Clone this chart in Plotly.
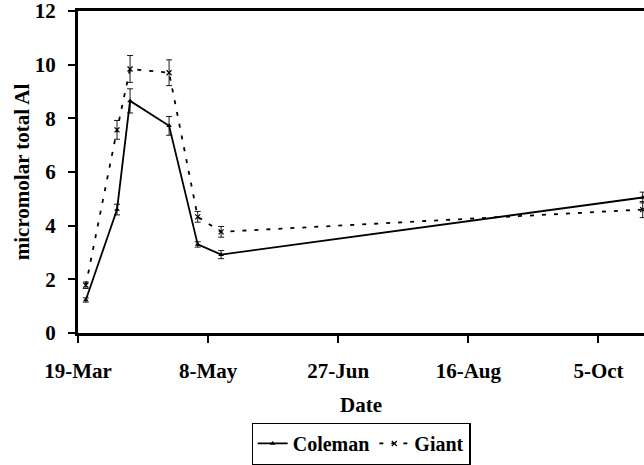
import plotly.graph_objects as go

dates = ["2003-03-22", "2003-04-03", "2003-04-08", "2003-04-23", "2003-05-04", "2003-05-13", "2003-10-22"]
coleman = [1.23, 4.6, 8.65, 7.72, 3.3, 2.92, 5.05]
coleman_err = [0.08, 0.2, 0.45, 0.35, 0.1, 0.15, 0.2]
giant = [1.78, 7.57, 9.84, 9.7, 4.33, 3.77, 4.6]
giant_err = [0.12, 0.35, 0.5, 0.48, 0.2, 0.2, 0.3]

tick_vals = ["2003-03-19", "2003-05-08", "2003-06-27", "2003-08-16", "2003-10-05"]
tick_text = ["19-Mar", "8-May", "27-Jun", "16-Aug", "5-Oct"]
y_ticks = [0, 2, 4, 6, 8, 10, 12]

font_family = "Liberation Serif"
fs = 21

fig = go.Figure()
fig.add_trace(go.Scatter(
    x=dates, y=coleman, name="<b>Coleman</b>", mode="lines+markers",
    line=dict(color="black", width=1.8),
    marker=dict(symbol="triangle-up", size=5, color="black"),
    error_y=dict(type="data", array=coleman_err, color="black", thickness=0.9, width=3),
    cliponaxis=False,
))
fig.add_trace(go.Scatter(
    x=dates, y=giant, name="<b>Giant</b>", mode="lines+markers",
    line=dict(color="black", width=1.8, dash="4px,8px"),
    marker=dict(symbol="x-thin", size=5, color="black", line=dict(width=1.2, color="black")),
    error_y=dict(type="data", array=giant_err, color="black", thickness=0.9, width=3),
    cliponaxis=False,
))

fig.update_layout(
    width=644, height=465,
    margin=dict(l=78, r=0, t=11, b=132, autoexpand=False),
    paper_bgcolor="white", plot_bgcolor="white",
    font=dict(family=font_family, size=fs, color="black"),
    showlegend=True,
    legend=dict(
        orientation="h", x=0.5, xanchor="center", y=-0.344, yanchor="middle",
        bordercolor="black", borderwidth=1.2,
        font=dict(family=font_family, size=20, color="black"),
        itemwidth=30, tracegroupgap=0,
    ),
    xaxis=dict(
        type="date",
        range=["2003-03-19", "2003-10-22 12:00"],
        tickvals=tick_vals, ticktext=["<b>%s</b>" % t for t in tick_text],
        showgrid=False, zeroline=False,
        showline=True, linecolor="black", linewidth=2.5, mirror=True,
        ticks="outside", ticklen=7, tickwidth=1.5, tickcolor="black",
        ticklabelstandoff=10, ticklabeloverflow="allow",
        tickfont=dict(family=font_family, size=fs),
        title=dict(text="<b>Date</b>", font=dict(family=font_family, size=fs), standoff=16),
    ),
    yaxis=dict(
        range=[0, 12], tickvals=y_ticks, ticktext=["<b>%d</b>" % v for v in y_ticks],
        showgrid=False, zeroline=False,
        showline=True, linecolor="black", linewidth=3,
        ticks="outside", ticklen=7, tickwidth=1.5, tickcolor="black",
        ticklabelstandoff=8, ticklabeloverflow="allow",
        tickfont=dict(family=font_family, size=fs),
        title=dict(text="<b>micromolar total Al</b>", font=dict(family=font_family, size=fs), standoff=0),
    ),
)

fig.write_html("out.html")
